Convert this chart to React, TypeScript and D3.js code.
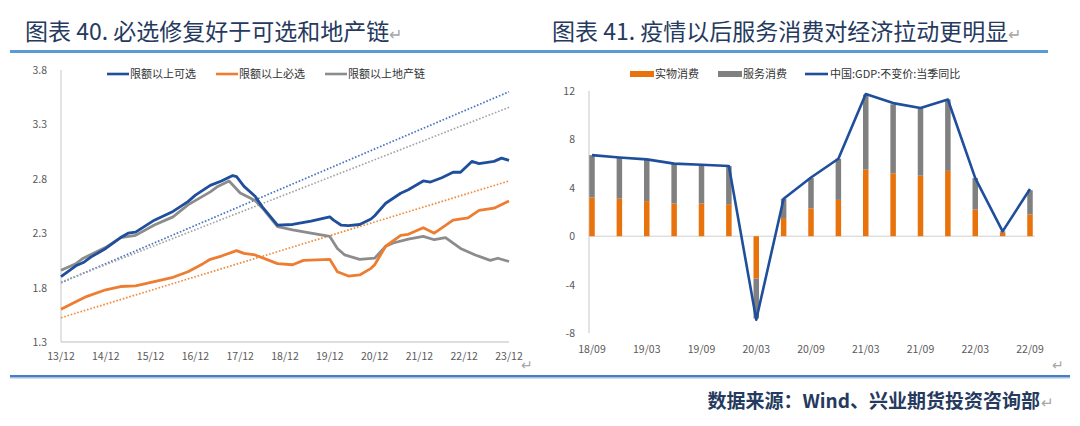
import React from 'react';
import * as d3 from 'd3';

const W = 1080;
const H = 426;
const FONT = "'Noto Sans CJK SC', 'Noto Sans', sans-serif";

// 图表40: 限额以上社零 (指数)
const kexuan: [string, number][] = [
  ['2013-12', 1.9], ['2014-04', 2.0], ['2014-06', 2.03], ['2014-08', 2.08], ['2014-12', 2.16],
  ['2015-04', 2.26], ['2015-06', 2.3], ['2015-08', 2.31], ['2016-01', 2.42], ['2016-06', 2.5],
  ['2016-10', 2.59], ['2016-12', 2.65], ['2017-04', 2.74], ['2017-07', 2.78], ['2017-10', 2.83],
  ['2017-11', 2.82], ['2018-01', 2.73], ['2018-04', 2.64], ['2018-06', 2.54], ['2018-10', 2.375],
  ['2019-02', 2.38], ['2019-07', 2.41], ['2019-12', 2.45], ['2020-01', 2.42], ['2020-03', 2.375],
  ['2020-05', 2.37], ['2020-08', 2.38], ['2020-11', 2.43], ['2020-12', 2.46], ['2021-03', 2.575],
  ['2021-07', 2.667], ['2021-09', 2.7], ['2022-01', 2.78], ['2022-03', 2.77], ['2022-06', 2.81],
  ['2022-09', 2.86], ['2022-11', 2.86], ['2023-02', 2.96], ['2023-04', 2.94], ['2023-08', 2.96],
  ['2023-10', 2.99], ['2023-12', 2.97],
];
const bixuan: [string, number][] = [
  ['2013-12', 1.6], ['2014-04', 1.67], ['2014-07', 1.72], ['2014-12', 1.78], ['2015-04', 1.81],
  ['2015-08', 1.815], ['2016-01', 1.855], ['2016-06', 1.895], ['2016-10', 1.946], ['2017-02', 2.02],
  ['2017-04', 2.06], ['2017-07', 2.09], ['2017-11', 2.14], ['2018-01', 2.115], ['2018-04', 2.1],
  ['2018-10', 2.02], ['2019-02', 2.01], ['2019-05', 2.05], ['2019-12', 2.06], ['2020-02', 1.946],
  ['2020-05', 1.906], ['2020-08', 1.916], ['2020-11', 1.977], ['2020-12', 2.01], ['2021-03', 2.18],
  ['2021-07', 2.28], ['2021-09', 2.29], ['2022-01', 2.35], ['2022-04', 2.3], ['2022-09', 2.42],
  ['2023-01', 2.44], ['2023-04', 2.51], ['2023-08', 2.53], ['2023-12', 2.596],
];
const dichan: [string, number][] = [
  ['2013-12', 1.96], ['2014-04', 2.02], ['2014-06', 2.07], ['2014-12', 2.17], ['2015-04', 2.26],
  ['2015-08', 2.28], ['2016-01', 2.375], ['2016-06', 2.45], ['2016-10', 2.56], ['2017-04', 2.68],
  ['2017-06', 2.73], ['2017-09', 2.78], ['2017-12', 2.67], ['2018-04', 2.6], ['2018-06', 2.53],
  ['2018-10', 2.36], ['2019-02', 2.33], ['2019-07', 2.3], ['2019-12', 2.27], ['2020-02', 2.16],
  ['2020-04', 2.1], ['2020-08', 2.06], ['2020-12', 2.07], ['2021-03', 2.18], ['2021-05', 2.21],
  ['2021-09', 2.245], ['2022-01', 2.27], ['2022-04', 2.24], ['2022-07', 2.26], ['2022-11', 2.16],
  ['2023-03', 2.1], ['2023-07', 2.05], ['2023-09', 2.07], ['2023-12', 2.04],
];
// 线性趋势线起止值
const trendKexuan = [1.845, 3.6];
const trendBixuan = [1.523, 2.78];
const trendDichan = [1.85, 3.457];
const leftXTicks = ['13/12', '14/12', '15/12', '16/12', '17/12', '18/12', '19/12', '20/12', '21/12', '22/12', '23/12'];
const leftYTicks = [1.3, 1.8, 2.3, 2.8, 3.3, 3.8];

// 图表41: 消费对GDP拉动
const quarters = ['18/09', '18/12', '19/03', '19/06', '19/09', '19/12', '20/03', '20/06', '20/09',
  '20/12', '21/03', '21/06', '21/09', '21/12', '22/03', '22/06', '22/09'];
const goods = [3.2, 3.1, 2.9, 2.7, 2.7, 2.65, -3.5, 1.5, 2.3, 3.0, 5.5, 5.2, 5.0, 5.4, 2.2, 0.3, 1.8];
const services = [3.5, 3.4, 3.4, 3.3, 3.2, 3.15, -3.3, 1.6, 2.5, 3.4, 6.2, 5.7, 5.6, 5.9, 2.6, 0.1, 2.0];
const gdp = [6.7, 6.5, 6.35, 6.0, 5.9, 5.8, -6.9, 3.1, 4.85, 6.4, 11.75, 11.0, 10.6, 11.3, 4.8, 0.4, 3.9];
const rightXLabels = ['18/09', '19/03', '19/09', '20/03', '20/09', '21/03', '21/09', '22/03', '22/09'];
const rightYTicks = [-8, -4, 0, 4, 8, 12];

const BLUE = '#1f4e9c';
const ORANGE = '#ed7d31';
const GRAY = '#8c8c8c';
const BAR_ORANGE = '#e8720c';
const BAR_GRAY = '#808080';
const TITLE = '#253a5e';
const TICK = '#595959';
const RET = '#a6a6a6';

const parseMonth = d3.timeParse('%Y-%m');
const parseTick = d3.timeParse('%y/%m');

const LeftChart = () => {
  const x = d3.scaleTime()
    .domain([parseMonth('2013-12')!, parseMonth('2023-12')!])
    .range([61, 509]);
  const y = d3.scaleLinear().domain([1.3, 3.8]).range([342, 70]);
  const line = d3.line<[string, number]>()
    .x(d => x(parseMonth(d[0])!))
    .y(d => y(d[1]));
  const [x0, x1] = x.domain();
  const trends = [
    { v: trendKexuan, c: '#4472c4' },
    { v: trendDichan, c: '#a5a5a5' },
    { v: trendBixuan, c: '#f08a3c' },
  ];
  const legend = [
    { label: '限额以上可选', c: BLUE, x: 107 },
    { label: '限额以上必选', c: ORANGE, x: 216 },
    { label: '限额以上地产链', c: GRAY, x: 325 },
  ];
  return (
    <g>
      <line x1={61} x2={61} y1={70} y2={342} stroke="#d0d0d0" strokeWidth={1.2} />
      <line x1={61} x2={509} y1={342} y2={342} stroke="#bfbfbf" strokeWidth={1} />
      {leftYTicks.map(t => (
        <text key={t} x={47} y={y(t) + 4} textAnchor="end" fontSize={10.5} fill={TICK}>{t.toFixed(1)}</text>
      ))}
      {leftXTicks.map(t => (
        <text key={t} x={x(parseTick(t)!)} y={360} textAnchor="middle" fontSize={10.5} fill={TICK}>{t}</text>
      ))}
      {trends.map((t, i) => (
        <line key={i} x1={x(x0)} x2={x(x1)} y1={y(t.v[0])} y2={y(t.v[1])}
          stroke={t.c} strokeWidth={1.7} strokeDasharray="1.6,1.8" />
      ))}
      <path d={line(dichan)!} fill="none" stroke={GRAY} strokeWidth={2.8} strokeLinejoin="round" />
      <path d={line(bixuan)!} fill="none" stroke={ORANGE} strokeWidth={2.8} strokeLinejoin="round" />
      <path d={line(kexuan)!} fill="none" stroke={BLUE} strokeWidth={2.8} strokeLinejoin="round" />
      {legend.map(l => (
        <g key={l.label}>
          <line x1={l.x} x2={l.x + 22} y1={74} y2={74} stroke={l.c} strokeWidth={2.6} />
          <text x={l.x + 23} y={78} fontSize={11} fill="#333">{l.label}</text>
        </g>
      ))}
      <text x={521} y={370} fontSize={14} fill={RET}>↵</text>
    </g>
  );
};

const RightChart = () => {
  const x = d3.scalePoint<string>().domain(quarters).range([592, 1030]);
  const y = d3.scaleLinear().domain([-8, 12]).range([333, 91]);
  const table = quarters.map((q, i) => ({ q, goods: goods[i], services: services[i] }));
  const stacked = d3.stack<{ q: string; goods: number; services: number }>()
    .keys(['goods', 'services'])
    .offset(d3.stackOffsetDiverging)(table);
  const colors = [BAR_ORANGE, BAR_GRAY];
  const bw = 5.5;
  const line = d3.line<number>()
    .x((_, i) => x(quarters[i])!)
    .y(d => y(d));
  const legend = [
    { label: '实物消费', c: BAR_ORANGE, x: 630, bar: true },
    { label: '服务消费', c: BAR_GRAY, x: 718, bar: true },
    { label: '中国:GDP:不变价:当季同比', c: BLUE, x: 805, bar: false },
  ];
  return (
    <g>
      <line x1={589} x2={589} y1={91} y2={333} stroke="#d0d0d0" strokeWidth={1.2} />
      <line x1={589} x2={1035} y1={y(0)} y2={y(0)} stroke="#d0d0d0" strokeWidth={1} />
      {rightYTicks.map(t => (
        <text key={t} x={575} y={y(t) + 4} textAnchor="end" fontSize={10.5} fill={TICK}>{t}</text>
      ))}
      {rightXLabels.map(t => (
        <text key={t} x={x(t)!} y={353} textAnchor="middle" fontSize={10.5} fill={TICK}>{t}</text>
      ))}
      {stacked.map((s, k) => (
        <g key={s.key} fill={colors[k]}>
          {s.map(d => (
            <rect key={d.data.q} x={x(d.data.q)! - bw / 2} width={bw}
              y={y(Math.max(d[0], d[1]))} height={Math.abs(y(d[0]) - y(d[1]))} />
          ))}
        </g>
      ))}
      <path d={line(gdp)!} fill="none" stroke={BLUE} strokeWidth={2.6} strokeLinejoin="round" />
      {legend.map(l => (
        <g key={l.label}>
          {l.bar
            ? <rect x={l.x} y={71} width={24} height={6} fill={l.c} />
            : <line x1={l.x} x2={l.x + 23} y1={74} y2={74} stroke={l.c} strokeWidth={2.6} />}
          <text x={l.x + 25} y={78} fontSize={11} fill="#333">{l.label}</text>
        </g>
      ))}
      <text x={1052} y={370} fontSize={14} fill={RET}>↵</text>
    </g>
  );
};

export default function App() {
  return (
    <svg width={W} height={H} viewBox={`0 0 ${W} ${H}`} fontFamily={FONT}
      style={{ position: 'absolute', left: 0, top: 0, background: '#fff' }}>
      <rect width={W} height={H} fill="#fff" />
      <text x={25} y={40} fontSize={23} fill={TITLE}>
        图表 40. 必选修复好于可选和地产链<tspan fontSize={16} fill={RET}>↵</tspan>
      </text>
      <text x={552} y={40} fontSize={23} fill={TITLE}>
        图表 41. 疫情以后服务消费对经济拉动更明显<tspan fontSize={16} fill={RET}>↵</tspan>
      </text>
      <rect x={10} y={50} width={1038} height={3} fill="#5b9bd5" />
      <LeftChart />
      <RightChart />
      <rect x={10} y={375} width={1060} height={2} fill="#4a7cc4" />
      <rect x={10} y={377} width={1060} height={1.5} fill="#9dc3e6" />
      <text x={1040} y={408} textAnchor="end" fontSize={19} fontWeight="bold" fill={TITLE}>
        数据来源：Wind、兴业期货投资咨询部
      </text>
      <text x={1041} y={408} fontSize={15} fill={RET}>↵</text>
    </svg>
  );
}
